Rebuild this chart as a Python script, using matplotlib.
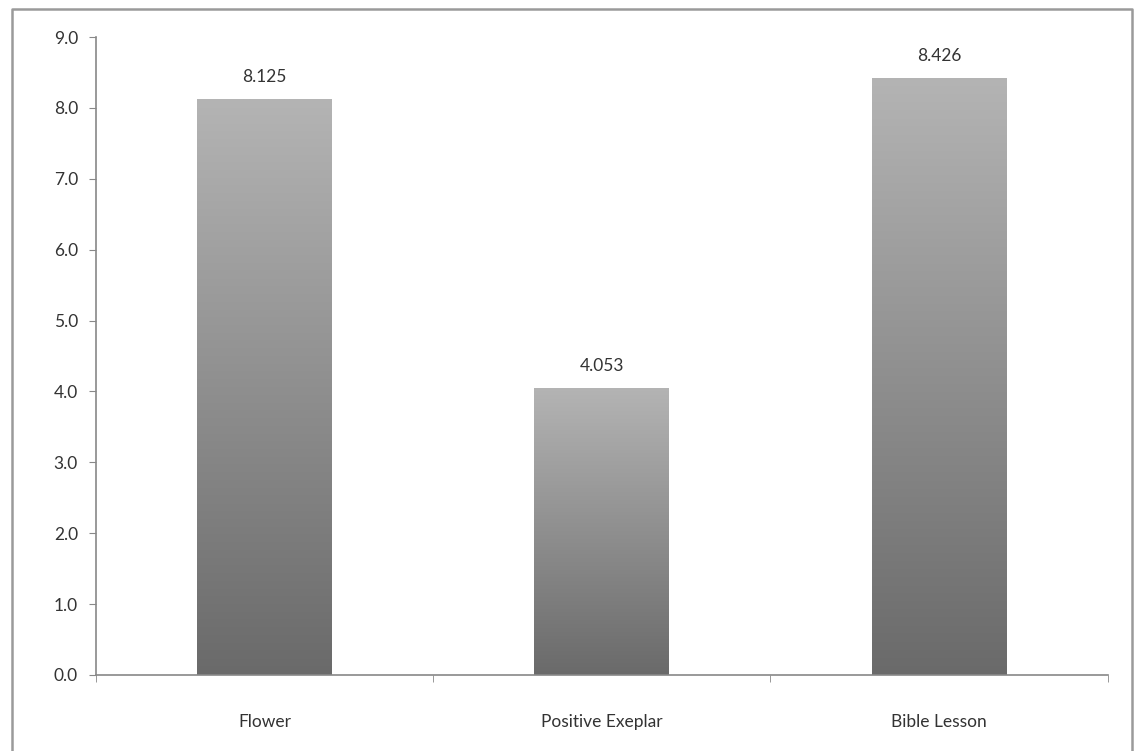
import numpy as np
import matplotlib
matplotlib.use("Agg")
from matplotlib import pyplot as plt
from matplotlib.lines import Line2D
from matplotlib.colors import LinearSegmentedColormap

categories = ["Flower", "Positive Exeplar", "Bible Lesson"]
values = [8.125, 4.053, 8.426]
yticks = [0.0, 1.0, 2.0, 3.0, 4.0, 5.0, 6.0, 7.0, 8.0, 9.0]

plt.rcParams['font.family'] = ['Lato', 'DejaVu Sans']

fig = plt.figure(figsize=(11.36, 7.51), dpi=100)
ax = fig.add_axes([0.0845, 0.1012, 0.8905, 0.8495])

# outer frame of the chart area (bottom edge is cut off in the scan)
fig.lines.append(Line2D([0.0105, 0.0105, 0.9965, 0.9965], [0.0, 0.988, 0.988, 0.0],
                        transform=fig.transFigure, color="#9a9a9a", linewidth=1.8))

x = np.arange(len(categories))
bars = ax.bar(x, values, width=0.4, color="none", edgecolor="none")

cmap = LinearSegmentedColormap.from_list("g", ["#6a6a6a", "#b4b4b4"])
grad = np.linspace(0, 1, 256).reshape(-1, 1)
for b in bars:
    x0, y0 = b.get_x(), b.get_y()
    w, h = b.get_width(), b.get_height()
    im = ax.imshow(grad, cmap=cmap, origin="lower", aspect="auto",
                   extent=[x0, x0 + w, y0, y0 + h], zorder=2)
    im.set_clip_path(b)

for xi, v in zip(x, values):
    ax.text(xi, v + 0.2, f"{v:.3f}", ha="center", va="bottom", fontsize=12.5, color="#333333")

ax.set_xlim(-0.5, len(categories) - 0.5)
ax.set_ylim(0, 9)
ax.set_yticks(yticks)
ax.set_yticklabels([f"{t:.1f}" for t in yticks], fontsize=12.5, color="#333333")
ax.set_xticks(x)
ax.set_xticklabels(categories, fontsize=12.5, color="#333333")
ax.tick_params(axis="x", length=0, pad=28)
ax.set_xticks([-0.5, 0.5, 1.5, 2.5], minor=True)
ax.tick_params(axis="x", which="minor", length=5, color="#888888")
ax.tick_params(axis="y", length=5, color="#888888", pad=8)

for s in ["top", "right"]:
    ax.spines[s].set_visible(False)
for s in ["left", "bottom"]:
    ax.spines[s].set_color("#888888")
    ax.spines[s].set_linewidth(1.2)

fig.savefig("out.png", dpi=100, facecolor="white")
